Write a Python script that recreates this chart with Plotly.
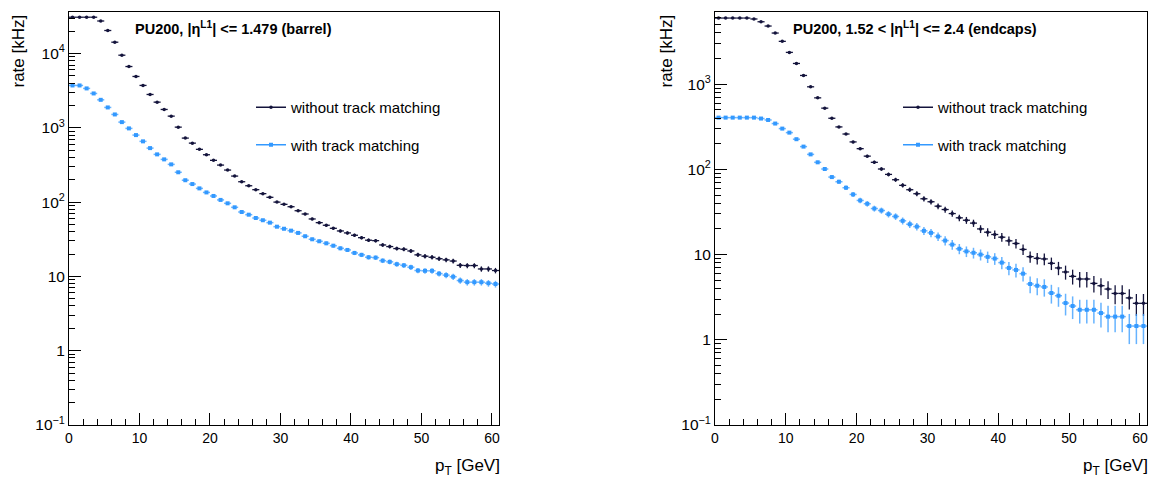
import plotly.graph_objects as go
import numpy as np

# ---------------- data ----------------
pt_bin_low = list(range(61))          # 1 GeV bins from 0 to 61 GeV
bin_half_width = 0.5

barrel_without = [30800, 30800, 30800, 30800, 27400, 20400, 14200, 9490, 6680, 4910,
                  3720, 2810, 2215, 1766, 1436, 1021, 727, 622, 513, 434,
                  365, 315, 270, 224, 188, 166, 147, 130, 116, 100,
                  93.3, 86.7, 76.6, 69.2, 59.3, 52.9, 48.8, 44.4, 40.9, 38.5,
                  35.8, 33.2, 30.7, 30.3, 26.5, 25.2, 23.7, 23.2, 22.0, 19.5,
                  18.7, 18.1, 17.3, 16.7, 16.1, 14.1, 14.0, 14.0, 12.6, 12.6, 12.0]
barrel_without_err = [51, 51, 51, 51, 48, 42, 35, 28, 24, 20,
                      18, 15, 14, 12, 11, 9.3, 7.9, 7.3, 6.6, 6.1,
                      5.6, 5.2, 4.8, 4.4, 4.0, 3.8, 3.5, 3.3, 3.1, 2.9,
                      2.8, 2.7, 2.55, 2.42, 2.25, 2.12, 2.04, 1.94, 1.86, 1.81,
                      1.74, 1.68, 1.62, 1.60, 1.50, 1.46, 1.42, 1.40, 1.37, 1.29,
                      1.26, 1.24, 1.21, 1.19, 1.17, 1.09, 1.09, 1.09, 1.03, 1.03, 1.01]

barrel_with = [3715, 3715, 3390, 2900, 2380, 1880, 1513, 1193, 982, 798,
               657, 533, 439, 376, 322, 252, 197, 175, 153, 135,
               121, 107, 96.3, 85.1, 73.6, 67.7, 61.1, 57.0, 52.9, 46.7,
               43.8, 41.3, 38.5, 34.7, 31.6, 29.7, 27.9, 25.9, 23.9, 22.7,
               20.7, 19.5, 18.1, 17.9, 16.3, 15.7, 14.6, 14.1, 13.3, 12.0,
               11.9, 11.9, 10.9, 10.4, 9.9, 8.8, 8.36, 8.36, 8.36, 8.1, 7.9]
barrel_with_err = [17.8, 17.8, 17.0, 15.7, 14.2, 12.6, 11.3, 10.0, 9.1, 8.2,
                   7.5, 6.7, 6.1, 5.7, 5.2, 4.6, 4.1, 3.9, 3.6, 3.4,
                   3.2, 3.0, 2.86, 2.69, 2.50, 2.40, 2.28, 2.2, 2.12, 1.99,
                   1.93, 1.87, 1.81, 1.72, 1.64, 1.59, 1.54, 1.48, 1.43, 1.39,
                   1.33, 1.29, 1.24, 1.23, 1.18, 1.15, 1.11, 1.09, 1.06, 1.01,
                   1.01, 1.01, 0.96, 0.94, 0.92, 0.86, 0.84, 0.84, 0.84, 0.83, 0.82]

endcap_without = [5970, 5970, 5970, 5970, 5970, 5820, 5400, 4810, 3980, 3180,
                  2360, 1750, 1265, 931, 691, 523, 398, 315, 260, 210,
                  175, 143, 121, 101, 87.3, 75.6, 64.9, 57.7, 51.8, 45.2,
                  41.7, 37.0, 33.8, 30.3, 27.0, 25.3, 23.4, 20.0, 18.3, 17.2,
                  16.0, 14.5, 13.5, 11.5, 9.46, 9.04, 8.89, 7.9, 6.97, 6.25,
                  5.55, 5.17, 5.17, 4.59, 4.31, 3.94, 3.50, 3.50, 3.10, 2.68, 2.68]
endcap_without_err = [36, 36, 36, 36, 36, 36, 34, 33, 30, 26,
                      23, 20, 17, 14, 12, 10.7, 9.4, 8.3, 7.6, 6.8,
                      6.2, 5.6, 5.2, 4.7, 4.4, 4.1, 3.8, 3.6, 3.4, 3.15,
                      3.03, 2.85, 2.73, 2.58, 2.44, 2.36, 2.27, 2.10, 2.01, 1.94,
                      1.88, 1.79, 1.72, 1.59, 1.44, 1.41, 1.40, 1.32, 1.24, 1.17,
                      1.10, 1.07, 1.07, 1.00, 0.97, 0.93, 0.88, 0.88, 0.83, 0.77, 0.77]

endcap_with = [405, 405, 405, 405, 405, 405, 395, 380, 345, 301,
               270, 226, 185, 150, 121, 101, 81.2, 71.6, 60.9, 50.8,
               43.2, 39.5, 34.7, 32.9, 29.8, 28.0, 24.9, 22.7, 21.3, 19.0,
               18.0, 16.3, 14.6, 13.1, 11.7, 10.9, 10.5, 10.0, 9.4, 8.98,
               8.05, 6.97, 6.61, 5.97, 4.52, 4.31, 4.17, 3.54, 3.29, 2.70,
               2.49, 2.25, 2.25, 2.25, 2.06, 1.87, 1.87, 1.87, 1.45, 1.45, 1.45]
endcap_with_err = [9.4, 9.4, 9.4, 9.4, 9.4, 9.4, 9.3, 9.1, 8.7, 8.1,
                   7.7, 7.1, 6.4, 5.7, 5.2, 4.7, 4.2, 4.0, 3.7, 3.3,
                   3.1, 2.95, 2.76, 2.69, 2.56, 2.48, 2.34, 2.23, 2.16, 2.04,
                   1.99, 1.89, 1.79, 1.70, 1.60, 1.55, 1.52, 1.48, 1.44, 1.41,
                   1.33, 1.24, 1.21, 1.15, 1.0, 0.97, 0.96, 0.88, 0.85, 0.77,
                   0.74, 0.70, 0.70, 0.70, 0.67, 0.64, 0.64, 0.64, 0.56, 0.56, 0.56]

series_names = ["without track matching", "with track matching"]
y_ticks_vals = [0.1, 1, 10, 100, 1000, 10000]
y_ticks_text = ["10<sup>−1</sup>", "1", "10", "10<sup>2</sup>", "10<sup>3</sup>", "10<sup>4</sup>"]
x_ticks_vals = [0, 10, 20, 30, 40, 50, 60]

# ---------------- style ----------------
DARK = "#14143c"
LIGHT = "#3399ff"
LIGHT_BAR = "rgba(51,153,255,0.75)"
FONT = "Liberation Sans, Arial, sans-serif"
W, H = 1151, 482

pt_centers = np.array(pt_bin_low) + bin_half_width
half_widths = [bin_half_width] * len(pt_bin_low)

fig = go.Figure()

def add_series(xa, ya, y, err, color, barcolor, size, symbol, thick):
    fig.add_trace(go.Scatter(
        x=pt_centers, y=y, mode="markers", xaxis=xa, yaxis=ya,
        marker=dict(color=color, size=size, symbol=symbol, line=dict(width=0)),
        error_x=dict(type="data", array=half_widths, width=0, thickness=thick, color=barcolor),
        error_y=dict(type="data", array=err, width=0, thickness=thick, color=barcolor),
        showlegend=False, hoverinfo="x+y"))

add_series("x", "y", barrel_without, barrel_without_err, DARK, DARK, 3.5, "circle", 1.3)
add_series("x", "y", barrel_with, barrel_with_err, LIGHT, LIGHT_BAR, 4, "square", 1.5)
add_series("x2", "y2", endcap_without, endcap_without_err, DARK, DARK, 3.5, "circle", 1.3)
add_series("x2", "y2", endcap_with, endcap_with_err, LIGHT, LIGHT_BAR, 4, "square", 1.5)

# legend entries (legend-only traces)
for leg, xa, ya in (("legend", "x", "y"), ("legend2", "x2", "y2")):
    for name, color, size, symbol in ((series_names[0], DARK, 3.5, "circle"),
                                      (series_names[1], LIGHT, 4, "square")):
        fig.add_trace(go.Scatter(
            x=[None], y=[None], mode="lines+markers", name=name, xaxis=xa, yaxis=ya,
            line=dict(color=color, width=1.5),
            marker=dict(color=color, size=size, symbol=symbol),
            legend=leg, legendgroup=leg + name, showlegend=True))

def px_x(p):
    return p / W

def px_y(p):
    return 1 - p / H

axis_common = dict(
    showline=True, linecolor="black", linewidth=1, mirror=True,
    showgrid=False, zeroline=False, ticks="inside", tickcolor="black",
    ticklen=12, tickwidth=1, automargin=False,
)

xdom1 = [px_x(69), px_x(499)]
xdom2 = [px_x(715), px_x(1147)]
ydom = [px_y(425), px_y(12)]

xcommon = dict(axis_common, range=[0, 61], tickmode="array", tickvals=x_ticks_vals,
               tickfont=dict(family=FONT, size=14, color="black"),
               minor=dict(ticks="inside", ticklen=6, dtick=2, tick0=0, tickcolor="black", showgrid=False))
ycommon = dict(axis_common, type="log", tickmode="array", tickvals=y_ticks_vals, ticktext=y_ticks_text,
               tickfont=dict(family=FONT, size=15.5, color="black"),
               minor=dict(ticks="inside", ticklen=6, dtick="D1", tickcolor="black", showgrid=False))

legend_common = dict(
    font=dict(family=FONT, size=15, color="black"),
    bgcolor="rgba(0,0,0,0)", borderwidth=0, tracegroupgap=15,
    xanchor="left", yanchor="top", itemwidth=30,
)

fig.update_layout(
    width=W, height=H, autosize=False,
    margin=dict(l=0, r=0, t=0, b=0, pad=0, autoexpand=False),
    paper_bgcolor="white", plot_bgcolor="white",
    font=dict(family=FONT, color="black"),
    xaxis=dict(xcommon, domain=xdom1, anchor="y"),
    yaxis=dict(ycommon, domain=ydom, anchor="x", range=[-1, np.log10(36200)]),
    xaxis2=dict(xcommon, domain=xdom2, anchor="y2"),
    yaxis2=dict(ycommon, domain=ydom, anchor="x2", range=[-1, np.log10(7030)]),
    legend=dict(legend_common, x=px_x(251), y=px_y(91)),
    legend2=dict(legend_common, x=px_x(898), y=px_y(91)),
    showlegend=True,
)

annotations = [
    dict(text="<b>PU200, |η<sup>L1</sup>| &lt;= 1.479 (barrel)</b>", x=px_x(133), y=px_y(28),
         xanchor="left", yanchor="middle", font=dict(size=14.5)),
    dict(text="<b>PU200, 1.52 &lt; |η<sup>L1</sup>| &lt;= 2.4 (endcaps)</b>", x=px_x(791), y=px_y(28),
         xanchor="left", yanchor="middle", font=dict(size=14.5)),
    dict(text="rate [kHz]", textangle=-90, x=px_x(18), y=px_y(13),
         xanchor="center", yanchor="top", font=dict(size=17)),
    dict(text="rate [kHz]", textangle=-90, x=px_x(666), y=px_y(13),
         xanchor="center", yanchor="top", font=dict(size=17)),
    dict(text="p<sub>T</sub> [GeV]", x=px_x(502), y=px_y(467),
         xanchor="right", yanchor="middle", font=dict(size=17)),
    dict(text="p<sub>T</sub> [GeV]", x=px_x(1150), y=px_y(467),
         xanchor="right", yanchor="middle", font=dict(size=17)),
]
for a in annotations:
    a.update(xref="paper", yref="paper", showarrow=False)
    a["font"] = dict(family=FONT, color="black", **a["font"])
fig.update_layout(annotations=annotations)

fig.write_html("out.html")
